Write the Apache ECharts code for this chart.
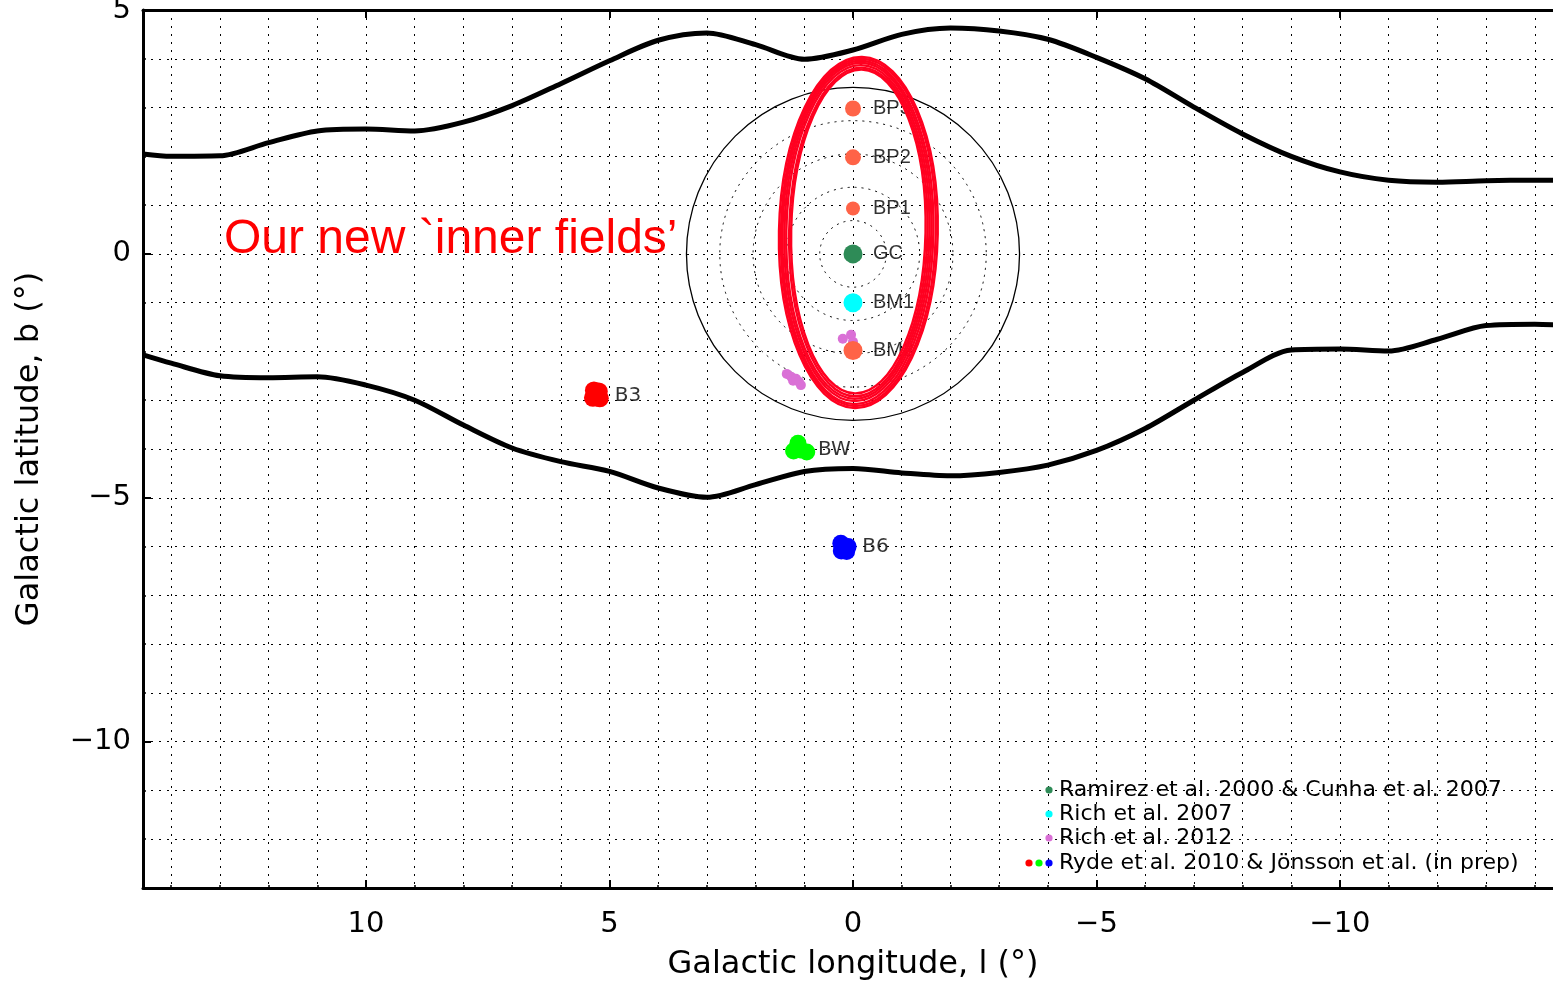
<!DOCTYPE html>
<html>
<head>
<meta charset="utf-8">
<script src="https://cdn.jsdelivr.net/npm/echarts@6/dist/echarts.min.js"></script>
<style>
  html, body { margin: 0; padding: 0; background: #fff; }
  #chart { width: 1553px; height: 983px; }
</style>
</head>
<body>
<div id="chart"></div>
<script>
// ---- Plot window (degrees) ----
const lonRange = [-14.58, 14.58];
const latRange = [-13, 5];

// ---- Bulge outline, upper edge: [l, b] ----
const upperBoundary = [
  [14.58, 2.05], [14, 2.0], [13, 2.01], [12, 2.28], [11, 2.52], [10, 2.56], [9, 2.52],
  [8, 2.70], [7, 3.04], [6, 3.49], [5, 3.96], [4, 4.38], [3, 4.53], [2, 4.29], [1, 3.99],
  [0, 4.18], [-1, 4.50], [-2, 4.63], [-3, 4.57], [-4, 4.40], [-5, 4.03], [-6, 3.59],
  [-7, 3.01], [-8, 2.46], [-9, 2.0], [-10, 1.68], [-11, 1.51], [-12, 1.47], [-13, 1.50],
  [-14, 1.51], [-14.58, 1.51]
];

// ---- Bulge outline, lower edge: [l, b] ----
const lowerBoundary = [
  [14.58, -2.07], [14, -2.24], [13, -2.50], [12, -2.54], [11, -2.52], [10, -2.69], [9, -3.0],
  [8, -3.51], [7, -3.98], [6, -4.26], [5, -4.46], [4, -4.80], [3, -4.99], [2, -4.73],
  [1, -4.46], [0, -4.40], [-1, -4.49], [-2, -4.55], [-3, -4.48], [-4, -4.33], [-5, -4.03],
  [-6, -3.58], [-7, -3.0], [-8, -2.43], [-9, -1.97], [-10, -1.95], [-11, -1.99], [-12, -1.75],
  [-13, -1.47], [-14, -1.44], [-14.58, -1.46]
];

// ---- Distance rings around the Galactic Centre: [l, b, radius] ----
const distanceRings = [[0, 0, 0.684], [0, 0, 1.368], [0, 0, 2.052], [0, 0, 2.736]];
const outerRing = [[0, 0, 3.42]];

// ---- Inner-field band, traced outlines: [l_c, b_c, semi-axis l, semi-axis b] ----
const innerFieldTracks = [
  [-0.11, 0.44, 1.63, 3.60],
  [-0.11, 0.44, 1.59, 3.56],
  [-0.10, 0.44, 1.55, 3.52],
  [-0.10, 0.45, 1.51, 3.47],
  [-0.10, 0.45, 1.47, 3.42],
  [-0.11, 0.45, 1.42, 3.37],
  [-0.11, 0.46, 1.38, 3.32]
];

// ---- Fields ----
const newFieldNames = ['BP3', 'BP2', 'BP1', 'BM2'];
const newFieldPos = [[0, 2.98], [0, 1.98], [0, 0.93], [0, -1.98]];
const gcField = [[0, 0]];
const bm1Field = [[0, -1]];
const rich2012Stars = [
  [0.04, -1.66], [0.21, -1.74], [0.0, -1.80],
  [1.36, -2.46], [1.27, -2.52], [1.23, -2.60], [1.17, -2.56], [1.11, -2.62], [1.07, -2.69]
];
const b3Stars = [[5.32, -2.80], [5.22, -2.82], [5.34, -2.95], [5.20, -2.96], [5.28, -2.90]];
const bwStars = [[1.13, -3.88], [1.22, -4.04], [0.95, -4.06], [1.08, -4.02]];
const b6Stars = [[0.25, -5.93], [0.10, -6.00], [0.24, -6.09], [0.13, -6.10]];

// Labels placed beside each field: [l, b, name]
const innerLabels = [[0, 2.98, 'BP3'], [0, 1.98, 'BP2'], [0, 0.93, 'BP1'], [0, 0, 'GC'], [0, -1.0, 'BM1'], [0, -1.98, 'BM2']];
const outerLabels = [[5.26, -2.91, 'B3'], [1.09, -4.02, 'BW'], [0.18, -6.01, 'B6']];

// Legend rows
const legendNames = [
  'Ramirez et al. 2000 & Cunha et al. 2007',
  'Rich et al. 2007',
  'Rich et al. 2012',
  'Ryde et al. 2010 & J\u00f6nsson et al. (in prep)'
];

const annotation = 'Our new `inner fields\u2019';

// ---- Styling ----
const HERSHEY = '"DejaVu Sans", sans-serif';
const HELV = '"Liberation Sans", Arial, sans-serif';
const DOT = [2, 6];
const C_GC = '#2e8b57', C_BM1 = '#00ffff', C_NEW = '#ff6347', C_RICH12 = '#da70d6';
const C_B3 = '#ff0000', C_BW = '#00ff00', C_B6 = '#0000ff', C_BAND = '#ff0020';
const newFieldSize = { BP3: 16, BP2: 16, BP1: 14, BM2: 19 };

const fmtMajor = v => {
  if (Math.abs(v - Math.round(v)) > 1e-6 || Math.round(v) % 5 !== 0) return '';
  const n = Math.round(v);
  return n < 0 ? '\u2212' + Math.abs(n) : String(n);
};

function ringRenderer(dashed) {
  return function (params, api) {
    const c = api.coord([api.value(0), api.value(1)]);
    const r = Math.abs(api.size([api.value(2), 0])[0]);
    return {
      type: 'circle',
      shape: { cx: c[0], cy: c[1], r: r },
      style: { fill: 'none', stroke: '#000', lineWidth: dashed ? 1 : 1.3, lineDash: dashed ? [2, 5] : null },
      silent: true
    };
  };
}

function bandRenderer(params, api) {
  const c = api.coord([api.value(0), api.value(1)]);
  const s = api.size([api.value(2), api.value(3)]);
  return {
    type: 'ellipse',
    x: c[0], y: c[1],
    rotation: -1.2 * Math.PI / 180,
    shape: { cx: 0, cy: 0, rx: Math.abs(s[0]), ry: Math.abs(s[1]) },
    style: { fill: 'none', stroke: C_BAND, lineWidth: 2.4 },
    silent: true
  };
}

const xCommon = { type: 'value', inverse: true, min: lonRange[0], max: lonRange[1] };
const yCommon = { type: 'value', min: latRange[0], max: latRange[1] };

const chart = echarts.init(document.getElementById('chart'), null, { renderer: 'canvas' });

const legendY = [790, 814, 838, 863];
const legendGraphics = [];
legendNames.forEach((name, i) => {
  legendGraphics.push({
    type: 'text', x: 1059, y: legendY[i], z: 100,
    style: { text: name, fontFamily: HERSHEY, fontSize: 22, fill: '#000', align: 'left', verticalAlign: 'middle' }
  });
});
[[1049, 0, C_GC], [1049, 1, C_BM1], [1049, 2, C_RICH12], [1029, 3, C_B3], [1039, 3, C_BW], [1049, 3, C_B6]]
  .forEach(d => legendGraphics.push({
    type: 'circle', z: 100, shape: { cx: d[0], cy: legendY[d[1]], r: 3.6 }, style: { fill: d[2] }
  }));

const option = {
  animation: false,
  backgroundColor: '#fff',
  grid: { left: 143, top: 10, width: 1420, height: 878, outerBoundsMode: 'none', containLabel: false },
  xAxis: [
    Object.assign({}, xCommon, {
      position: 'bottom', splitNumber: 29,
      axisLine: { show: true, onZero: false, lineStyle: { color: '#000', width: 3 } },
      axisTick: { show: true, inside: true, length: 3, lineStyle: { color: '#000', width: 1.5 } },
      axisLabel: { show: false },
      splitLine: { show: true, lineStyle: { color: '#000', width: 1, type: DOT } }
    }),
    Object.assign({}, xCommon, {
      position: 'bottom', splitNumber: 6,
      axisLine: { show: false, onZero: false },
      axisTick: { show: true, inside: true, length: 8, lineStyle: { color: '#000', width: 2 } },
      axisLabel: { show: true, formatter: fmtMajor, margin: 22, fontFamily: HERSHEY, fontSize: 29, color: '#000' },
      splitLine: { show: false },
      name: 'Galactic longitude, l (\u00b0)', nameLocation: 'middle', nameGap: 61,
      nameTextStyle: { fontFamily: HERSHEY, fontSize: 32, color: '#000' }
    }),
    Object.assign({}, xCommon, {
      position: 'top', splitNumber: 6,
      axisLine: { show: true, onZero: false, lineStyle: { color: '#000', width: 3 } },
      axisTick: { show: true, inside: true, length: 8, lineStyle: { color: '#000', width: 2 } },
      axisLabel: { show: false },
      splitLine: { show: false }
    })
  ],
  yAxis: [
    Object.assign({}, yCommon, {
      position: 'left', interval: 1,
      axisLine: { show: true, onZero: false, lineStyle: { color: '#000', width: 3 } },
      axisTick: { show: true, inside: true, length: 3, lineStyle: { color: '#000', width: 1.5 } },
      axisLabel: { show: false },
      splitLine: { show: true, lineStyle: { color: '#000', width: 1, type: DOT } }
    }),
    Object.assign({}, yCommon, {
      position: 'left', splitNumber: 4,
      axisLine: { show: false, onZero: false },
      axisTick: { show: true, inside: true, length: 8, lineStyle: { color: '#000', width: 2 } },
      axisLabel: { show: true, formatter: fmtMajor, margin: 12, fontFamily: HERSHEY, fontSize: 29, color: '#000' },
      splitLine: { show: false },
      name: 'Galactic latitude, b (\u00b0)', nameLocation: 'middle', nameGap: 97,
      nameTextStyle: { fontFamily: HERSHEY, fontSize: 32, color: '#000' }
    })
  ],
  series: [
    { type: 'line', data: upperBoundary, smooth: 0.3, showSymbol: false, z: 3,
      lineStyle: { color: '#000', width: 5 }, silent: true },
    { type: 'line', data: lowerBoundary, smooth: 0.3, showSymbol: false, z: 3,
      lineStyle: { color: '#000', width: 5 }, silent: true },
    { type: 'custom', data: distanceRings, renderItem: ringRenderer(true), z: 4, silent: true },
    { type: 'custom', data: outerRing, renderItem: ringRenderer(false), z: 4, silent: true },
    { type: 'scatter', data: gcField, symbolSize: 19, itemStyle: { color: C_GC, opacity: 1 }, z: 5 },
    { type: 'scatter', data: bm1Field, symbolSize: 19, itemStyle: { color: C_BM1, opacity: 1 }, z: 5 },
    { type: 'scatter', data: rich2012Stars, symbolSize: 10, itemStyle: { color: C_RICH12, opacity: 1 }, z: 5 },
    { type: 'scatter', data: newFieldPos.map((p, i) => ({ name: newFieldNames[i], value: p })),
      symbolSize: (v, p) => newFieldSize[p.name], itemStyle: { color: C_NEW, opacity: 1 }, z: 5 },
    { type: 'scatter', data: b3Stars, symbolSize: 18, itemStyle: { color: C_B3, opacity: 1 }, z: 5 },
    { type: 'scatter', data: bwStars, symbolSize: 17, itemStyle: { color: C_BW, opacity: 1 }, z: 5 },
    { type: 'scatter', data: b6Stars, symbolSize: 17, itemStyle: { color: C_B6, opacity: 1 }, z: 5 },
    { type: 'scatter', data: innerLabels, symbolSize: 0, z: 6, silent: true,
      label: { show: true, position: 'right', distance: 20, formatter: p => p.value[2],
               fontFamily: HELV, fontSize: 20, color: '#000' } },
    { type: 'scatter', data: outerLabels, symbolSize: 0, z: 6, silent: true,
      label: { show: true, position: 'right', distance: 18, formatter: p => p.value[2],
               fontFamily: HERSHEY, fontSize: 20, color: '#000' } },
    { type: 'custom', data: innerFieldTracks, renderItem: bandRenderer, z: 8, silent: true }
  ],
  graphic: [
    { type: 'text', x: 224, y: 240, z: 100,
      style: { text: annotation, fontFamily: HELV, fontSize: 48, fill: '#ff0000', align: 'left', verticalAlign: 'middle' } }
  ].concat(legendGraphics)
};

chart.setOption(option);
</script>
</body>
</html>
